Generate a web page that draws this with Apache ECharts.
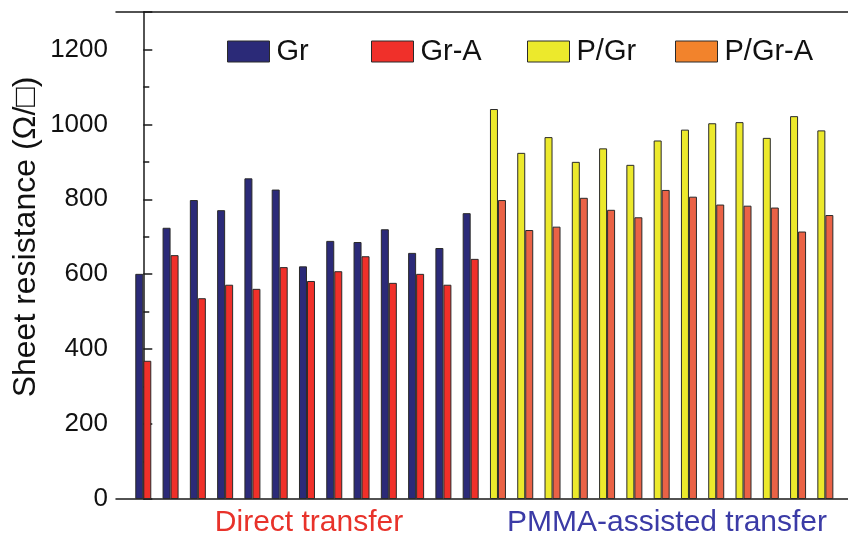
<!DOCTYPE html>
<html>
<head>
<meta charset="utf-8">
<script src="https://cdn.jsdelivr.net/npm/echarts@6/dist/echarts.min.js"></script>
<style>html,body{margin:0;padding:0;background:#fff;}#c{width:848px;height:535px;}</style>
</head>
<body>
<div id="c"></div>
<script>
// Direct transfer samples (13) and PMMA-assisted samples (13)
const directSamples = ['D1','D2','D3','D4','D5','D6','D7','D8','D9','D10','D11','D12','D13'];
const pmmaSamples = ['P1','P2','P3','P4','P5','P6','P7','P8','P9','P10','P11','P12','P13'];
const grValues   = [601, 724, 798, 771, 856, 826, 621, 689, 686, 720, 657, 670, 763];
const grAValues  = [369, 651, 536, 572, 561, 619, 582, 608, 648, 577, 601, 572, 641];
const pgrValues  = [1041, 924, 966, 900, 936, 892, 957, 986, 1003, 1006, 964, 1022, 984];
const pgrAValues = [798, 718, 727, 804, 772, 752, 825, 807, 786, 783, 778, 714, 758];
const yTicks = [0, 200, 400, 600, 800, 1000, 1200];
const groupLabels = ['Direct transfer', 'PMMA-assisted transfer'];
const seriesNames = ['Gr', 'Gr-A', 'P/Gr', 'P/Gr-A'];

const FONT = '"Liberation Sans", Arial, Helvetica, sans-serif';
const colors = {
  'Gr': '#2b2a78', 'Gr-A': '#f0302a', 'P/Gr': '#ece92c', 'P/Gr-A': '#ea6246'
};
const legendColors = {
  'Gr': '#2b2a78', 'Gr-A': '#f0302a', 'P/Gr': '#ece92c', 'P/Gr-A': '#f2832c'
};

const nD = directSamples.length;
const toPairs = (vals, offset) => vals.map((v, i) => [i + offset, v]);

function barSeries(name, stack, data) {
  return {
    name: name, type: 'bar', stack: stack, data: data,
    barWidth: 8, barGap: '0%',
    itemStyle: { color: colors[name], borderColor: '#2a2a2a', borderWidth: 1 },
    emphasis: { disabled: true }
  };
}

const legendLefts = [222, 366, 522, 670];
const legends = seriesNames.map((n, i) => ({
  left: legendLefts[i], top: 32, orient: 'horizontal',
  itemWidth: 42, itemHeight: 21, itemGap: 0,
  textStyle: { fontFamily: FONT, fontSize: 29, color: '#111', padding: [0, 0, 0, 2] },
  data: [{ name: n, icon: 'rect', itemStyle: { color: legendColors[n], borderColor: '#2a2a2a', borderWidth: 1 } }],
  selectedMode: false
}));

const chart = echarts.init(document.getElementById('c'), null, { renderer: 'canvas' });
chart.setOption({
  animation: false,
  backgroundColor: '#fff',
  grid: { left: 116, right: -2, top: 12, bottom: 36 },
  legend: legends,
  xAxis: [{
    type: 'value', min: -1, max: 25.83,
    axisLine: { show: true, onZero: false, lineStyle: { color: '#1a1a1a', width: 1.5 } },
    axisTick: { show: false }, axisLabel: { show: false }, splitLine: { show: false }
  }, {
    type: 'value', position: 'top', min: -1, max: 25.83,
    axisLine: { show: true, onZero: false, lineStyle: { color: '#1a1a1a', width: 1.5 } },
    axisTick: { show: false }, axisLabel: { show: false }, splitLine: { show: false }
  }],
  yAxis: {
    type: 'value', min: yTicks[0], max: 1300, interval: yTicks[1] - yTicks[0],
    axisLine: { show: true, lineStyle: { color: '#1a1a1a', width: 1.5 } },
    axisTick: { show: true, inside: true, length: 9, lineStyle: { color: '#1a1a1a', width: 1.5 } },
    minorTick: { show: true, splitNumber: 2, length: 6, lineStyle: { color: '#1a1a1a', width: 1.5 } },
    axisLabel: {
      margin: 8, fontFamily: FONT, fontSize: 26, color: '#111',
      formatter: v => (yTicks.indexOf(v) >= 0 ? String(v) : '')
    },
    splitLine: { show: false }
  },
  series: [
    barSeries('Gr', 'a', toPairs(grValues, 0)),
    barSeries('Gr-A', 'b', toPairs(grAValues, 0)),
    barSeries('P/Gr', 'a', toPairs(pgrValues, nD)),
    barSeries('P/Gr-A', 'b', toPairs(pgrAValues, nD))
  ],
  graphic: [
    { type: 'text', x: 26, y: 237, rotation: Math.PI / 2,
      style: { text: 'Sheet resistance (Ω/□)', font: '32px ' + FONT, fill: '#111', align: 'center', verticalAlign: 'middle' } },
    { type: 'text', x: 309, y: 523, style: { text: groupLabels[0], font: '30px ' + FONT, fill: '#e8322a', align: 'center', verticalAlign: 'middle' } },
    { type: 'text', x: 667, y: 523, style: { text: groupLabels[1], font: '30px ' + FONT, fill: '#3b3ba6', align: 'center', verticalAlign: 'middle' } }
  ]
});
</script>
</body>
</html>
